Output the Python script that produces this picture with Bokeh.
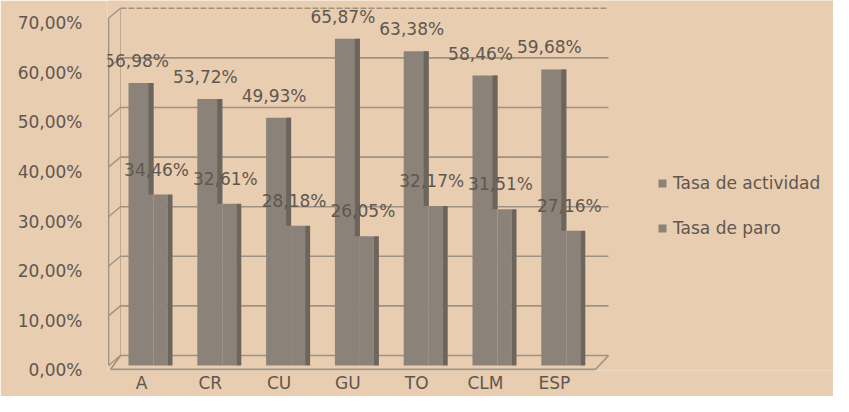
from bokeh.plotting import figure
from bokeh.models import (Range1d, FixedTicker, Legend, LegendItem, ColumnDataSource,
                          LinearAxis)
from bokeh.core.properties import value
from bokeh.embed import file_html
from bokeh.resources import INLINE

# ---- data ----
categories = ["A", "CR", "CU", "GU", "TO", "CLM", "ESP"]
tasa_actividad = [56.98, 53.72, 49.93, 65.87, 63.38, 58.46, 59.68]
tasa_paro = [34.46, 32.61, 28.18, 26.05, 32.17, 31.51, 27.16]
series_names = ["Tasa de actividad", "Tasa de paro"]
y_ticks = [0, 10, 20, 30, 40, 50, 60, 70]
y_tick_labels = ["0,00%", "10,00%", "20,00%", "30,00%", "40,00%", "50,00%", "60,00%", "70,00%"]

# ---- styling / geometry (pixels converted through scale) ----
W, H = 833, 396
LEFT = 107        # frame left (px)
BOTTOM_BORDER = 26
PX_X = 68.8       # pixels per category
PX_Y = 4.96       # pixels per percentage point
C0 = 34           # px from frame left to first category
Y0PX = 365        # px of value 0 from top
BG = "#e8cdb0"
FACE = "#8b8379"
SIDE = "#6c655e"
GRID = "#a09282"
TXT = "#5f5750"
FONT = "DejaVu Sans"
DEPTH_Y = 10 / PX_Y

def fmt(v):
    return ("%.2f" % v).replace(".", ",") + "%"

idx = list(range(len(categories)))
src = ColumnDataSource(dict(
    x=idx,
    act=tasa_actividad,
    paro=tasa_paro,
    act_lbl=[fmt(v) for v in tasa_actividad],
    paro_lbl=[fmt(v) for v in tasa_paro],
    act_face_x=[i - 0.5 / PX_X for i in idx],
    act_side_x=[i + 9.5 / PX_X for i in idx],
    paro_face_x=[i + 19 / PX_X for i in idx],
    paro_side_x=[i + 28.5 / PX_X for i in idx],
    act_lbl_x=[i - 5 / PX_X for i in idx],
    paro_lbl_x=[i + 15 / PX_X for i in idx],
))

frame_w = W - LEFT
frame_h = H - BOTTOM_BORDER
x0 = -C0 / PX_X
x1 = (frame_w - C0) / PX_X
y1 = Y0PX / PX_Y
y0 = -(frame_h - Y0PX) / PX_Y

p = figure(width=W, height=H, output_backend="svg", toolbar_location=None,
           x_range=Range1d(x0, x1), y_range=Range1d(y0, y1),
           y_axis_location=None,
           min_border_left=LEFT, min_border_right=0, min_border_top=0,
           min_border_bottom=BOTTOM_BORDER)
p.background_fill_color = BG
p.border_fill_color = BG
p.outline_line_color = None
p.grid.visible = False

# ---- 3D walls / grid ----
x_side = -33 / PX_X
x_back_l = -21 / PX_X
x_back_r = 467 / PX_X
for v in y_ticks:
    dash = "6 2" if v == y_ticks[-1] else "solid"
    p.segment(x0=[x_back_l], y0=[v + DEPTH_Y], x1=[x_back_r], y1=[v + DEPTH_Y],
              line_color=GRID, line_width=1.6, line_dash=dash)
    p.segment(x0=[x_side], y0=[v], x1=[x_back_l], y1=[v + DEPTH_Y],
              line_color=GRID, line_width=1.4)
p.segment(x0=[x_side], y0=[0], x1=[x_side], y1=[y_ticks[-1]], line_color=GRID, line_width=1.6)
p.segment(x0=[x_back_l], y0=[DEPTH_Y], x1=[x_back_l], y1=[y_ticks[-1] + DEPTH_Y],
          line_color=GRID, line_width=1.0, line_alpha=0.6)
fl_y = -4 / PX_Y
fl_l = -31 / PX_X
fl_r = 454 / PX_X
p.segment(x0=[fl_l], y0=[fl_y], x1=[fl_r], y1=[fl_y], line_color=GRID, line_width=2.2)
p.segment(x0=[fl_r], y0=[fl_y], x1=[x_back_r], y1=[DEPTH_Y], line_color=GRID, line_width=1.6)
p.segment(x0=[fl_l], y0=[fl_y], x1=[x_back_l], y1=[DEPTH_Y], line_color=GRID, line_width=1.6)

# ---- bars ----
act_face = p.vbar(x="act_face_x", top="act", bottom=0, width=25 / PX_X, source=src,
                  fill_color=FACE, line_color=None)
p.vbar(x="act_side_x", top="act", bottom="paro", width=5 / PX_X, source=src,
       fill_color=SIDE, line_color=None)
paro_face = p.vbar(x="paro_face_x", top="paro", bottom=0, width=14 / PX_X, source=src,
                   fill_color=FACE, line_color=None)
p.vbar(x="paro_side_x", top="paro", bottom=0, width=5 / PX_X, source=src,
       fill_color=SIDE, line_color=None)

# ---- data labels ----
p.text(x="act_lbl_x", y="act", text="act_lbl", source=src, y_offset=-22,
       text_align="center", text_baseline="middle", text_font=value(FONT),
       text_font_size="17px", text_color=TXT)
p.text(x="paro_lbl_x", y="paro", text="paro_lbl", source=src, y_offset=-25,
       text_align="center", text_baseline="middle", text_font=value(FONT),
       text_font_size="17px", text_color=TXT)

# ---- axes ----
shift = 4.8 / PX_Y  # tick labels sit a little below the front plane
p.extra_y_ranges = {"labels": Range1d(y0 + shift, y1 + shift)}
yaxis = LinearAxis(y_range_name="labels", ticker=FixedTicker(ticks=y_ticks))
p.add_layout(yaxis, "left")
yaxis.major_label_overrides = {t: l for t, l in zip(y_ticks, y_tick_labels)}
p.xaxis.ticker = FixedTicker(ticks=idx)
p.xaxis.major_label_overrides = {i: c for i, c in zip(idx, categories)}
for ax in (p.xaxis[0], yaxis):
    ax.axis_line_color = None
    ax.major_tick_line_color = None
    ax.minor_tick_line_color = None
    ax.major_tick_out = 0
    ax.major_tick_in = 0
    ax.minor_tick_out = 0
    ax.minor_tick_in = 0
    ax.major_label_text_font = FONT
    ax.major_label_text_font_size = "17px"
    ax.major_label_text_color = TXT
yaxis.major_label_standoff = 25
p.xaxis.major_label_standoff = 2

# ---- legend ----
legend = Legend(items=[LegendItem(label=series_names[0], renderers=[act_face]),
                       LegendItem(label=series_names[1], renderers=[paro_face])],
                location=(550, 132), orientation="vertical",
                glyph_width=10, glyph_height=10, label_standoff=6, spacing=25,
                padding=0, margin=0, border_line_color=None,
                background_fill_alpha=0, label_text_font=FONT,
                label_text_font_size="17px", label_text_color=TXT)
p.add_layout(legend)

open("out.html", "w").write(file_html(p, INLINE))
